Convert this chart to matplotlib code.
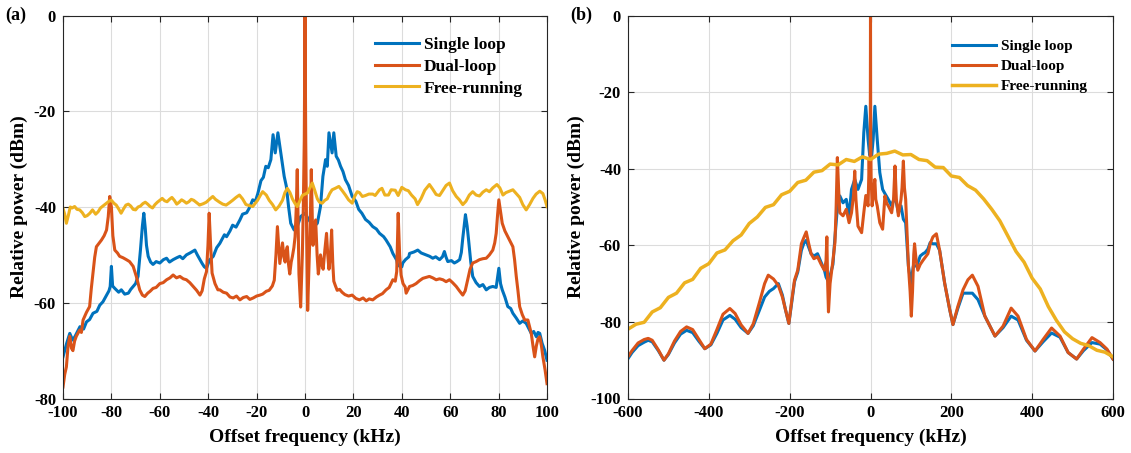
import numpy as np
import matplotlib.pyplot as plt

plt.rcParams['font.family'] = ['Liberation Serif', 'DejaVu Serif']
plt.rcParams['font.weight'] = 'bold'
plt.rcParams['axes.unicode_minus'] = False

c_single = '#0072BD'
c_dual = '#D95319'
c_free = '#EDB120'

# (a) narrow span, kHz / dBm
a_single_f = [-100, -98.5, -97.2, -96, -95, -93, -91.5, -90.3, -89, -87.6, -86, -84.8, -83.5, -82, -81, -80.5, -80, -79.5,
              -78.6, -77, -75.9, -74.5, -73, -72, -71, -70, -69, -68, -67.2, -66.6, -66, -65.5, -64.8, -63.8, -62.8,
              -61.5, -60, -58.5, -57.2, -56, -54.5, -53, -51.7, -50.5, -49, -47.5, -46.5, -45.5, -44.5, -43.4, -42.5,
              -41.6, -40.7, -39.5, -37.9, -36.5, -35.2, -33.3, -32.4, -31, -29.9, -28.5, -26.9, -25.8, -24.1, -23,
              -21.6, -20.5, -19.5, -18.2, -17.2, -16.2, -15.2, -14.1, -13.2, -12.3, -11.2, -10, -9.3, -8.6, -7.7, -6.8,
              -5.9, -4.5, -3.2, -1.8, 0, 1.6, 3.7, 5.1, 6.4, 7.4, 8.5, 9.2, 9.9, 11.2, 11.9, 12.9, 13.8, 14.7, 15.7,
              16.7, 18, 19.5, 21, 22.2, 23.5, 25, 26.5, 28, 29.5, 30.8, 32.5, 33.5, 35.2, 36.3, 37.9, 38.3, 40, 40.4,
              41.5, 42.9, 43.2, 45, 46.6, 48, 50, 51.5, 52.8, 54, 55.6, 56.8, 57.6, 58.3, 59, 60.5, 61.7, 62.8, 63.9,
              64.6, 65.2, 66.3, 67, 67.6, 68.5, 69.3, 70.7, 72.1, 73.5, 74.9, 76.2, 77.6, 79, 80.1, 80.8, 81.5, 82.6,
              83.8, 85, 85.9, 87.3, 88.7, 90, 91.4, 92.5, 93.5, 94.5, 95.6, 96.3, 97, 98, 99, 100]
a_single_p = [-71.3, -68.5, -66.4, -67.8, -67, -65, -65.5, -64, -63.5, -62.2, -61.8, -60.5, -59.8, -58.4, -57.5, -56.6,
              -52.4, -56.5, -57, -57.8, -57.3, -58.2, -58, -57.2, -56.6, -56, -54.5, -49, -44, -41.3, -44.5, -48, -50.3,
              -51.5, -52, -51.4, -51.7, -51, -50.7, -51.5, -51, -50.6, -50.3, -50.8, -50, -49.6, -49.3, -49, -50, -51,
              -51.8, -52.5, -52.8, -51.1, -50.3, -48.5, -47.6, -45.8, -46.2, -45, -43.8, -44.2, -42.7, -41.5, -41.2,
              -40.2, -38.5, -38.8, -37.2, -34.5, -33.8, -31.5, -31.8, -30.1, -24.9, -28.7, -24.5, -28.7, -31, -33.6,
              -35.7, -39.9, -43.4, -44.8, -44.1, -42, -41.3, -42.7, -44.1, -43.4, -39.9, -33.6, -30.1, -31.5, -24.5,
              -28.7, -24.5, -29.4, -30.2, -31.5, -32.6, -34.3, -35.5, -37.8, -38.8, -40.5, -41.3, -42.6, -43.2, -44.1,
              -44.6, -45.5, -46.2, -46.9, -48.3, -49.7, -51.1, -52.2, -52.5, -51.7, -51, -50.4, -49.7, -49.4, -49,
              -49.6, -50, -50.3, -50.7, -50.4, -51, -50.4, -49.3, -50.5, -51.4, -51.2, -51.7, -51.4, -51, -49.5, -46.5,
              -41.6, -44, -46.9, -51.5, -54.5, -55.8, -56.6, -56.2, -57.3, -56.8, -56.6, -56.8, -52.8, -56, -57.3,
              -58.8, -60.8, -61.2, -62.2, -63.2, -64.3, -63.8, -64.3, -65.4, -66.4, -66, -67.1, -66.2, -66.4, -68.5,
              -69.9, -72]

a_dual_f = [-100, -99.3, -98.6, -97.9, -97.2, -96.5, -95.9, -95.2, -94.5, -93.1, -92.4, -91.7, -90.3, -89, -88.3, -87.6,
            -86.9, -86.2, -85, -84.1, -83, -82, -81.3, -80.7, -80, -79.4, -78.6, -77.5, -76.6, -75.2, -73.8, -72.5, -71,
            -69.7, -68.3, -67.2, -66.2, -65, -64, -62.8, -61.5, -60, -58.6, -57.2, -55.8, -54.5, -53.1, -51.7, -50.3,
            -49, -47.6, -46.2, -44.8, -43.4, -42.5, -41.6, -40.7, -40.1, -39.6, -39, -38.4, -37.2, -36, -35.2, -33.8,
            -32.4, -31, -29.7, -28.3, -26.9, -25.5, -24.1, -22.8, -21.4, -20, -18.6, -17.5, -16, -14.8, -13.5, -12.7,
            -12, -11.4, -10.9, -10.4, -9.8, -9.3, -8.7, -8.2, -7.7, -7.3, -6.8, -6.3, -5.7, -5.2, -4.6, -4.1, -3.6,
            -3.2, -2.8, -2.5, -2.1, -1.8, -1.4, -1.1, -0.7, -0.3, 0, 0.3, 0.6, 1.1, 1.5, 1.9, 2.3, 2.6, 3, 3.3, 3.8,
            4.4, 5, 5.5, 6, 6.4, 7, 7.5, 8.2, 8.9, 9.4, 9.9, 10.5, 11, 11.5, 11.9, 12.6, 13.3, 14.3, 15.3, 16.5, 18,
            19.5, 21, 22.5, 24, 25.3, 26.5, 28, 29.5, 30.8, 32, 33.5, 34.8, 36.3, 37.3, 37.9, 38.5, 39.1, 39.7, 40.5,
            41.4, 41.8, 43.2, 44.5, 45.9, 47.3, 48.7, 50, 51.4, 52.8, 54.2, 55.6, 57, 58.3, 59.7, 61, 62.5, 63.8,
            65.2, 66.2, 67.2, 68.2, 69.3, 70.7, 72.1, 73.5, 74.9, 76.2, 77.6, 78.4, 79, 79.6, 80.1, 80.8, 81.5, 82.6,
            83.8, 84.8, 85.9, 86.6, 87.3, 88, 88.7, 89.8, 90.8, 92.1, 92.8, 93.5, 94.2, 94.9, 95.6, 96.3, 97, 97.7,
            98.3, 99.2, 100]
a_dual_p = [-77.6, -75, -73.4, -69, -67, -69.5, -70, -68, -67, -65.7, -66.2, -63.6, -62, -60.8, -57, -53.8, -50.5,
            -48.3, -47.5, -46.9, -46, -44.8, -42, -37.8, -40, -46, -49, -49.6, -50.3, -50.6, -51, -51.4, -52.4, -54.5,
            -57.3, -58.4, -58.7, -58, -57.6, -57, -56.8, -56, -55.8, -55.2, -54.8, -54.2, -54.8, -54.5, -55, -55.2,
            -55.8, -56.6, -57.4, -58.4, -57.5, -55, -53.5, -48, -41.3, -48, -53.8, -56, -57.3, -57.3, -57.8, -58,
            -58.8, -59, -58.6, -59.4, -58.9, -58.7, -59.3, -59, -58.6, -58.4, -58.2, -57.6, -57.4, -56.5, -55.3, -50,
            -44.1, -48, -51.8, -49.5, -47.5, -50.5, -51.5, -49, -48.3, -52, -54, -51.5, -50.3, -48.5, -46.2, -40,
            -32.2, -45, -54, -58, -60.9, -55, -50, -40, -26, 0, -26, -42, -61.6, -55, -48, -40, -32.2, -42, -48, -45,
            -42.7, -50, -54, -52, -50, -52, -53, -49, -45.5, -50, -53, -50, -44.8, -52, -55.5, -56.5, -57.4, -57.2,
            -57.8, -58.3, -58.6, -58.4, -59.1, -59.4, -59, -59.6, -59.2, -59.4, -58.8, -58.4, -58.1, -57.3, -56.8,
            -55.2, -55.5, -53.5, -41.3, -50, -54.2, -56, -56.7, -58, -56.6, -56.4, -56, -55.4, -54.9, -54.7, -54.5,
            -54.8, -55.2, -55, -55.2, -55.6, -55.2, -55.8, -56.6, -57.5, -58.4, -57.5, -55.2, -53, -51.7, -51.4, -51,
            -50.8, -50.7, -50, -49, -47.5, -45.5, -41.5, -38.5, -41, -43.4, -45, -46.2, -47.2, -48.3, -51, -54.5,
            -57.5, -60.8, -62.5, -63.6, -63.6, -65, -66.4, -69, -71.3, -69, -67.5, -67.1, -69, -71.3, -74, -76.9]

a_free_f = [-100, -99.3, -98.6, -97.8, -97, -96.2, -95.2, -94.2, -93.1, -92, -91, -90, -88.9, -87.8, -86.5, -85.5,
            -84.5, -83, -82, -81, -80, -79, -78, -77, -76, -75, -74, -73, -72, -71, -70, -69, -68, -67, -66, -65, -64,
            -63, -62, -61, -60, -59, -58, -57, -56, -55, -54, -53, -52, -51, -50, -49, -48, -47, -46, -45, -44, -43.6,
            -42, -40.8, -39.5, -38.1, -37, -35.3, -34, -32.6, -31.2, -29.9, -28.5, -27.1, -25.8, -24.4, -23, -21.6,
            -20.5, -19.6, -18.5, -17.5, -16, -14.8, -13.4, -12.1, -10.7, -9.3, -8.3, -7.3, -6.2, -5.2, -4.2, -3.2,
            -2.2, -1.1, 0, 1, 2, 3, 4, 5.1, 6, 7.1, 8.2, 9.2, 10.2, 11.2, 12.5, 14, 15.4, 16.7, 18, 19.5, 20.5, 21.6,
            22.5, 23.7, 25, 26.4, 28, 29, 30.8, 31.8, 33, 34.5, 35.6, 37.3, 38.5, 40, 41.5, 42.7, 44, 45.5, 46.5, 48,
            49.5, 51.4, 52.8, 54.2, 55.6, 57, 58.3, 59.7, 61, 62.5, 63.8, 65.2, 66.5, 67.9, 69.3, 70.7, 72.1, 73.5,
            74.9, 76.2, 77.6, 79.3, 80.5, 81.8, 83, 84.5, 85.9, 87.3, 88.7, 90, 91.4, 92.8, 94.2, 95.5, 97, 98.3,
            99.2, 100]
a_free_p = [-40.3, -41.5, -43.4, -41.8, -40, -40.2, -39.9, -40.5, -40.6, -41.2, -42, -41.8, -41.3, -40.6, -41.5, -41,
            -40.2, -39.6, -39.2, -38.8, -38.6, -39.2, -39.6, -40.4, -41.3, -40.4, -39.6, -39.4, -39.8, -40.5, -40.6,
            -40, -39.8, -39.3, -39, -39.4, -39.9, -40.2, -39.5, -39, -38.6, -38.2, -38.7, -38.9, -38.4, -38, -38.6,
            -39.4, -39, -38.5, -38.8, -39.2, -38.9, -38.4, -38.6, -39, -39.4, -39.6, -39.3, -39, -38.4, -37.8, -38.4,
            -39, -39.4, -39.6, -39.1, -38.6, -38, -37.5, -38.3, -39.5, -39.7, -39.9, -39.2, -38.6, -37.6, -36.8,
            -37.5, -38.6, -39.5, -40.6, -39.8, -38.6, -37, -36.1, -37, -38.3, -39.2, -39.9, -38.8, -37.6, -37.3,
            -37.1, -36, -35, -36.5, -38.3, -39, -39.2, -38.6, -38.3, -37.2, -36.4, -36.1, -35.7, -36.6, -37.5, -38.5,
            -39.2, -37.8, -36.8, -37, -37.8, -37.6, -37.3, -37.3, -37.6, -36.4, -36.1, -37.5, -37.5, -36.4, -36.5,
            -37.6, -35.9, -36.4, -36.6, -37.5, -38.3, -39.5, -38.2, -36.5, -35.3, -36.3, -37.4, -37.6, -36.5, -35.5,
            -35, -36.6, -37.8, -38.5, -39.5, -38.8, -37.5, -36.8, -37.5, -37.7, -36.9, -36.4, -36.8, -36, -35.3, -36,
            -37.5, -37, -36.7, -36.4, -37.2, -38, -39.5, -40.6, -39.5, -38.2, -37.3, -36.7, -37.2, -38.5, -39.9]

# (b) wide span
b_single_f = [-600, -590, -575, -560, -550, -540, -525, -511, -500, -485, -470, -455, -440, -425, -410, -395, -380, -365,
              -348, -335, -320, -303, -290, -275, -262, -250, -240, -228, -218, -210, -202, -195, -188, -180, -171,
              -165, -159, -153, -147, -140, -131, -122, -114, -110, -104, -99, -93, -88, -83, -76, -68, -60, -53, -47,
              -39, -31, -22, -16.6, -11.6, -6, -2, 0, 3, 6.6, 10.8, 16.6, 23, 30, 35.7, 44, 52.3, 60.6, 69, 75.5,
              81.3, 87, 93.8, 100, 106, 114.5, 123, 130, 135, 142, 147.7, 154.5, 163, 171, 183.5, 196, 204, 216, 229,
              241, 252, 266, 283, 308, 328, 348, 365, 386, 407, 427, 448, 469, 489, 510, 527, 548, 568, 585, 600]
b_single_p = [-89.6, -88, -86.2, -85.3, -84.8, -85.2, -87.5, -90, -88.5, -85.5, -83.2, -82.2, -82.8, -85, -87, -86, -83,
              -79.5, -78.3, -79.3, -81.5, -83, -81, -77, -73.5, -72, -71.3, -70, -73, -77, -80.4, -75, -69.5, -67,
              -61.3, -59.5, -58.7, -60.5, -62.2, -62.8, -62.2, -64.5, -66.5, -68.3, -69.5, -67.5, -65, -58, -51.5,
              -47.1, -48.9, -48, -52.3, -45.4, -42.8, -45.4, -42.8, -30.6, -23.7, -32.3, -36.5, -35.8, -36.5, -32.3,
              -23.7, -32.3, -41, -45.4, -46.5, -48, -49.7, -47.1, -51.5, -49.7, -53.2, -54.1, -65.4, -70, -65.4,
              -65.4, -62.8, -62.2, -61.9, -61, -59.3, -59.6, -59.6, -61.3, -69.9, -76.8, -80.7, -76.5, -72.5, -72.5,
              -72.5, -74.2, -78.5, -83.7, -81.5, -78.5, -79.5, -84.8, -87.6, -85.2, -82.9, -84, -88, -89.7, -87.5,
              -85.4, -85.8, -87.3, -89.7]

b_dual_f = [-600, -590, -575, -560, -550, -540, -525, -511, -500, -485, -470, -455, -440, -425, -410, -395, -380, -365,
            -348, -335, -320, -303, -290, -275, -262, -253, -240, -228, -218, -210, -202, -195, -188, -180, -171, -165,
            -159, -153, -147, -140, -131, -122, -114, -110, -108, -106, -104, -100, -93, -88, -85, -82, -79, -76, -68,
            -60, -53, -47, -42, -39, -36, -31, -22, -16.6, -11.6, -6, -3.3, -1.5, -0.5, 0, 0.5, 1.5, 4, 7, 10.8, 13,
            16.6, 23, 30, 35.7, 40, 44, 52.3, 57, 60.6, 64, 69, 75.5, 78, 81.3, 84, 87, 93.8, 98, 101, 104, 107, 109,
            113, 117, 123, 130, 142, 148, 154.5, 163, 171, 183.5, 196, 204, 216, 229, 241, 252, 266, 283, 308, 328,
            348, 365, 386, 407, 427, 448, 469, 489, 510, 527, 548, 568, 585, 600]
b_dual_p = [-89.1, -87.5, -85.5, -84.6, -84.3, -84.8, -87.3, -90, -88.3, -85, -82.5, -81.3, -82, -84.5, -87, -85.8, -82,
            -78, -76.5, -77.8, -80.8, -83, -80.5, -75, -70, -67.8, -68.8, -70.5, -73.5, -77, -80.4, -74.5, -69.1,
            -66.5, -59.6, -58, -56.5, -59.5, -62.2, -63.5, -63, -65, -66.5, -64, -57.8, -70, -77.4, -70, -64, -59.3,
            -50, -37.1, -45, -51.5, -52.3, -50.6, -54.1, -51.5, -47, -40.6, -48, -55, -56.7, -51.5, -47, -49.7, -37.6,
            -45, -30, 0, -30, -42, -49.7, -46, -42.8, -48, -49.7, -54.1, -55.8, -47.1, -49, -49.7, -51.5, -48, -39.3,
            -48, -52.3, -48, -45, -38, -45, -48, -65.4, -72, -78.5, -72, -62.4, -59.6, -64, -66.5, -65, -63.9, -62.2,
            -59.5, -57.8, -57, -61.3, -69.9, -76.8, -80.7, -76, -71.6, -69, -67.8, -70.7, -78.5, -83.7, -81.1, -76.4,
            -78.5, -84.6, -87.6, -84.6, -81.6, -83.7, -88, -89.7, -87.1, -84.1, -85.4, -87.1, -89.7]

b_free_f = list(range(-600, 601, 20))
b_free_p = [-81.9, -80.6, -80.1, -77.4, -76.3, -73.6, -72.5, -69.8, -68.9, -66.0, -64.8, -62.0, -61.2, -58.8, -57.3,
            -54.3, -52.6, -50.1, -49.4, -46.8, -45.9, -43.6, -43.0, -40.9, -40.5, -38.8, -39.0, -37.6, -38.1, -36.9,
            -37.6, -36.2, -36.0, -35.4, -36.4, -36.3, -37.6, -37.9, -39.6, -39.7, -41.9, -42.3, -44.4, -45.6, -47.9,
            -50.6, -53.6, -57.6, -61.6, -64.4, -68.6, -71.4, -76.0, -79.6, -82.6, -84.4, -85.6, -86.2, -87.4, -87.9,
            -89.1]

fig = plt.figure(figsize=(11.31, 4.53), dpi=100)
ax1 = fig.add_axes([63/1131, 54.5/453, 484/1131, 383/453])
ax2 = fig.add_axes([628/1131, 54.5/453, 485/1131, 383/453])


def style(ax, xlim, ylim, xt, yt):
    ax.set_xlim(xlim)
    ax.set_ylim(ylim)
    ax.set_xticks(xt)
    ax.set_yticks(yt)
    ax.grid(True, color='#dcdcdc', linewidth=0.8)
    ax.set_axisbelow(True)
    ax.tick_params(direction='in', top=True, right=True, length=4, width=0.8, color='#262626',
                   labelsize=12, pad=5)
    for s in ax.spines.values():
        s.set_color('#262626')
        s.set_linewidth(0.8)
    ax.set_xlabel('Offset frequency (kHz)', fontsize=14, fontweight='bold', labelpad=5)
    ax.set_ylabel('Relative power (dBm)', fontsize=14, fontweight='bold', labelpad=4)


ax1.plot(a_single_f, a_single_p, color=c_single, lw=2.2, label='Single loop')
ax1.plot(a_dual_f, a_dual_p, color=c_dual, lw=2.2, label='Dual-loop')
ax1.plot(a_free_f, a_free_p, color=c_free, lw=2.2, label='Free-running')
style(ax1, (-100, 100), (-80, 0), range(-100, 101, 20), range(-80, 1, 20))
ax1.legend(loc='upper left', bbox_to_anchor=(0.645, 0.944), frameon=False, fontsize=12.5,
           handlelength=2.5, handletextpad=0.3, labelspacing=0.32, borderpad=0, borderaxespad=0)

ax2.plot(b_single_f, b_single_p, color=c_single, lw=2.2, label='Single loop')
ax2.plot(b_dual_f, b_dual_p, color=c_dual, lw=2.2, label='Dual-loop')
ax2.plot(b_free_f, b_free_p, color=c_free, lw=2.5, label='Free-running')
style(ax2, (-600, 600), (-100, 0), range(-600, 601, 200), range(-100, 1, 20))
ax2.legend(loc='upper left', bbox_to_anchor=(0.668, 0.937), frameon=False, fontsize=11,
           handlelength=2.9, handletextpad=0.3, labelspacing=0.4, borderpad=0, borderaxespad=0)

fig.text(5/1131, 1 - 15/453, '(a)', fontsize=13, fontweight='bold', va='center', ha='left')
fig.text(570/1131, 1 - 15/453, '(b)', fontsize=13, fontweight='bold', va='center', ha='left')

fig.savefig('out.png', dpi=100)
